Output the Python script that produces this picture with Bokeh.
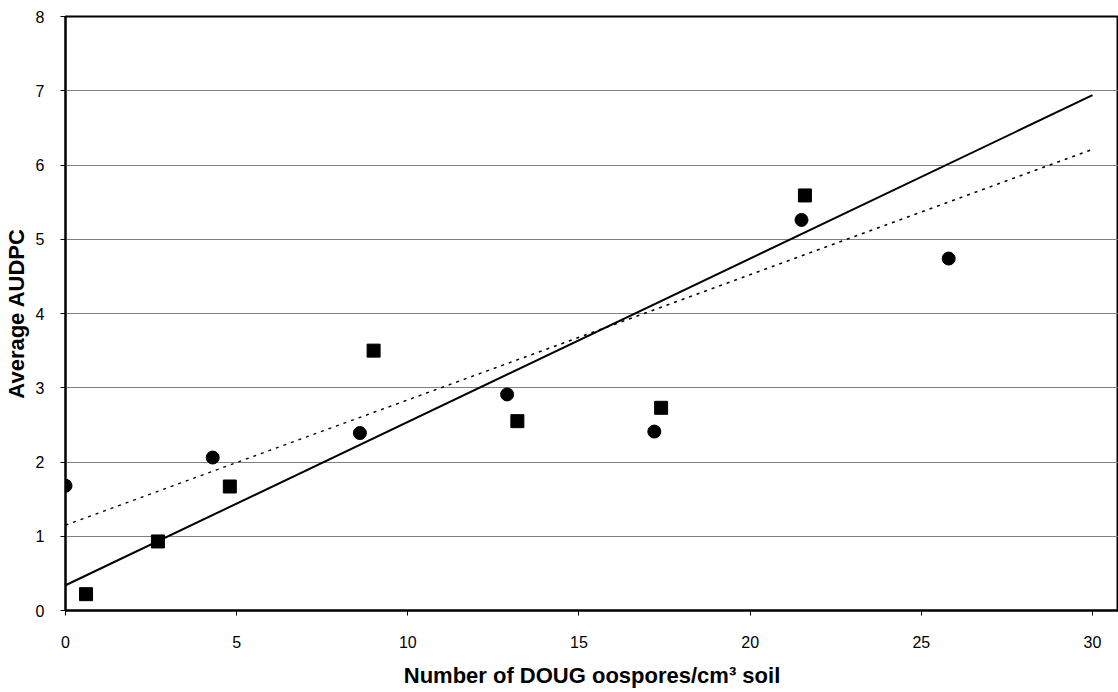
from bokeh.plotting import figure
from bokeh.models import Range1d, FixedTicker
from bokeh.embed import file_html
from bokeh.resources import INLINE

# Data
circle_x = [0.0, 4.3, 8.6, 12.9, 17.2, 21.5, 25.8]
circle_y = [1.68, 2.06, 2.39, 2.91, 2.41, 5.26, 4.74]
square_x = [0.6, 2.7, 4.8, 9.0, 13.2, 17.4, 21.6]
square_y = [0.22, 0.93, 1.67, 3.50, 2.55, 2.73, 5.59]
trend_x = [0, 30]
solid_y = [0.34, 6.94]
dotted_y = [1.15, 6.21]
x_ticks = [0, 5, 10, 15, 20, 25, 30]
y_ticks = [0, 1, 2, 3, 4, 5, 6, 7, 8]

FONT = "Liberation Sans"

p = figure(width=1118, height=692, output_backend="svg", toolbar_location=None,
           x_range=Range1d(0, 30.76), y_range=Range1d(0, 8),
           min_border_left=64, min_border_top=16, min_border_bottom=82, min_border_right=0)

p.outline_line_color = "black"
p.outline_line_width = 2
p.background_fill_color = "white"
p.border_fill_color = "white"

p.xgrid.grid_line_color = None
p.ygrid.grid_line_color = "#808080"
p.ygrid.grid_line_width = 1

for ax in (p.xaxis[0], p.yaxis[0]):
    ax.axis_line_color = "black"
    ax.axis_line_width = 2
    ax.major_tick_in = 0
    ax.major_tick_out = 5
    ax.major_tick_line_color = "black"
    ax.minor_tick_line_color = None
    ax.major_label_text_font = FONT
    ax.major_label_text_font_size = "16px"
    ax.major_label_text_color = "black"
    ax.axis_label_text_font = FONT
    ax.axis_label_text_font_style = "bold"
    ax.axis_label_text_font_size = "22px"
    ax.axis_label_text_color = "black"

p.xaxis.ticker = FixedTicker(ticks=x_ticks)
p.yaxis.ticker = FixedTicker(ticks=y_ticks)
p.xaxis.major_label_standoff = 20
p.yaxis.major_label_standoff = 16
p.xaxis.axis_label = "Number of DOUG oospores/cm³ soil"
p.yaxis.axis_label = "Average AUDPC"
p.xaxis.axis_label_standoff = 12
p.yaxis.axis_label_standoff = 4

p.line(trend_x, solid_y, line_color="black", line_width=2)
p.line(trend_x, dotted_y, line_color="black", line_width=1.5, line_dash="3 5")

p.scatter(circle_x, circle_y, marker="circle", size=13, fill_color="black", line_color="black")
p.scatter(square_x, square_y, marker="square", size=13, fill_color="black", line_color="black")

open("out.html", "w").write(file_html(p, INLINE))
